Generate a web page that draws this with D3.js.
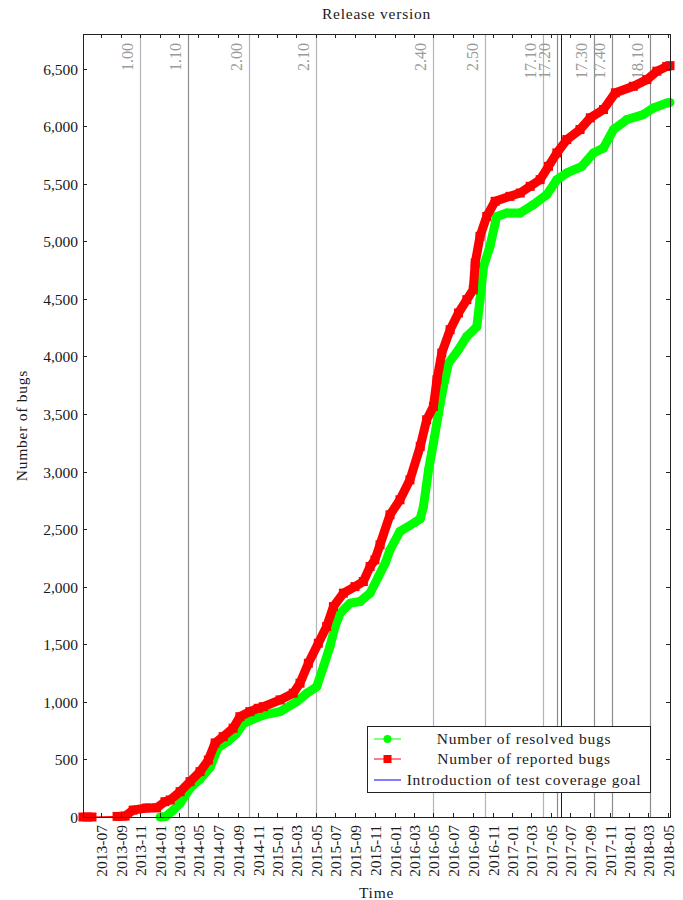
<!DOCTYPE html>
<html>
<head>
<meta charset="utf-8">
<script src="https://cdn.jsdelivr.net/npm/d3@7"></script>
<style>
  html, body { margin: 0; padding: 0; background: #fff; }
  svg { display: block; font-family: "Liberation Serif", "DejaVu Serif", serif; }
</style>
</head>
<body>
<svg id="chart" width="683" height="900"></svg>
<script>
// ---------------- data ----------------
const resolvedDates = ["2014-01-02","2014-01-20","2014-02-12","2014-03-05","2014-04-05","2014-05-06","2014-06-06","2014-07-01","2014-08-01","2014-08-26","2014-09-18","2014-11-19","2015-01-10","2015-03-03","2015-04-03","2015-05-04","2015-05-25","2015-06-14","2015-06-30","2015-07-16","2015-08-16","2015-09-16","2015-10-17","2015-11-12","2015-12-03","2015-12-18","2016-01-18","2016-03-05","2016-03-21","2016-03-31","2016-04-16","2016-05-01","2016-05-17","2016-06-01","2016-06-17","2016-07-18","2016-08-13","2016-09-13","2016-09-23","2016-10-04","2016-10-24","2016-11-14","2016-12-15","2017-01-26","2017-03-08","2017-04-19","2017-05-20","2017-06-20","2017-08-06","2017-09-11","2017-10-12","2017-11-12","2017-12-24","2018-02-13","2018-03-16","2018-04-27","2018-05-07"];
const resolvedValues = [0,5,60,120,250,330,430,600,660,720,814,886,915,1002,1075,1132,1306,1480,1654,1770,1857,1871,1944,2088,2204,2320,2480,2560,2590,2696,3015,3247,3508,3739,3942,4058,4174,4258,4493,4782,4956,5216,5245,5245,5318,5405,5535,5593,5651,5767,5810,5970,6057,6100,6158,6200,6205];

const reportedDates = ["2013-05-07","2013-06-04","2013-08-21","2013-09-15","2013-10-10","2013-11-21","2013-12-22","2014-01-17","2014-02-02","2014-03-05","2014-04-05","2014-05-06","2014-06-01","2014-06-22","2014-07-17","2014-08-17","2014-09-07","2014-10-08","2014-11-03","2014-11-19","2015-01-10","2015-02-20","2015-03-13","2015-04-08","2015-05-09","2015-06-04","2015-06-25","2015-07-26","2015-08-31","2015-09-26","2015-10-17","2015-11-01","2015-11-17","2015-12-18","2016-01-18","2016-02-18","2016-03-21","2016-04-10","2016-05-01","2016-05-12","2016-05-27","2016-06-22","2016-07-18","2016-08-13","2016-09-02","2016-09-08","2016-09-23","2016-10-14","2016-11-09","2016-12-25","2017-01-26","2017-02-26","2017-03-29","2017-04-24","2017-05-20","2017-06-20","2017-07-31","2017-09-01","2017-10-12","2017-11-18","2018-01-13","2018-02-24","2018-03-27","2018-04-27","2018-05-07"];
const reportedValues = [0,0,5,8,60,78,80,133,148,220,307,394,495,643,698,771,871,915,944,958,1017,1075,1162,1335,1509,1654,1827,1944,2001,2045,2175,2233,2364,2624,2755,2928,3218,3450,3565,3797,4029,4232,4377,4493,4580,4811,5043,5216,5347,5390,5419,5477,5535,5651,5767,5883,5970,6072,6144,6289,6346,6404,6477,6518,6525];

const releaseLabels = ["1.00","1.10","2.00","2.10","2.40","2.50","17.10","17.20","17.30","17.40","18.10"];
const releaseDates = ["2013-10-31","2014-03-31","2014-10-06","2015-05-02","2016-05-01","2016-10-09","2017-04-08","2017-05-20","2017-09-14","2017-11-08","2018-03-06"];
const testGoalDate = "2017-06-03";

const xTickLabels = ["2013-07","2013-09","2013-11","2014-01","2014-03","2014-05","2014-07","2014-09","2014-11","2015-01","2015-03","2015-05","2015-07","2015-09","2015-11","2016-01","2016-03","2016-05","2016-07","2016-09","2016-11","2017-01","2017-03","2017-05","2017-07","2017-09","2017-11","2018-01","2018-03","2018-05"];
const yTicks = [0,500,1000,1500,2000,2500,3000,3500,4000,4500,5000,5500,6000,6500];
const xDomain = ["2013-05-07","2018-05-07"];
const yDomain = [0, 6800];

const legendLabels = ["Number of resolved bugs","Number of reported bugs","Introduction of test coverage goal"];

// ---------------- drawing ----------------
const parse = d3.utcParse("%Y-%m-%d");
const parseM = d3.utcParse("%Y-%m");
const svg = d3.select("#chart");
const L = 83, R = 670, T = 34, B = 817;

const x = d3.scaleUtc().domain(xDomain.map(parse)).range([L, R]);
const y = d3.scaleLinear().domain(yDomain).range([B, T]);

const resolved = resolvedDates.map((d, i) => ({ date: parse(d), value: resolvedValues[i] }));
const reported = reportedDates.map((d, i) => ({ date: parse(d), value: reportedValues[i] }));

const FS = 15.5;       // numbers
const FW = 15.5;       // words
const LS = "0.75px";   // letter spacing for words (wider CM-like look)
const INK = "#1a1a1a";

// release lines
const darkSet = new Set(["1.10","17.20","17.30","17.40","18.10"]);
const rel = svg.append("g");
releaseDates.forEach((d, i) => {
  const xx = Math.round(x(parse(d))) + 0.5;
  rel.append("line").attr("x1", xx).attr("x2", xx).attr("y1", T).attr("y2", B)
    .attr("stroke", darkSet.has(releaseLabels[i]) ? "#8c8c8c" : "#b4b4b4").attr("stroke-width", 1.2);
  rel.append("text").attr("transform", `translate(${xx - 8},${T + 9}) rotate(-90)`)
    .attr("text-anchor", "end").attr("font-size", 16).attr("fill", "#9a9a9a")
    .text(releaseLabels[i]);
});
// test coverage line
const tg = Math.round(x(parse(testGoalDate))) + 0.5;
svg.append("line").attr("x1", tg).attr("x2", tg).attr("y1", T).attr("y2", B)
  .attr("stroke", "#0000ff").attr("stroke-width", 1);

// bands (split where consecutive near-zero points are far apart)
function segs(data) {
  const out = []; let cur = [data[0]];
  for (let i = 1; i < data.length; i++) {
    const gap = x(data[i].date) - x(data[i - 1].date);
    if (gap > 20 && data[i].value < 20 && data[i - 1].value < 20) { out.push(cur); cur = []; }
    cur.push(data[i]);
  }
  out.push(cur);
  return out;
}
const line = d3.line().x(d => x(d.date)).y(d => y(d.value));

function drawSeries(data, color, shape) {
  const g = svg.append("g");
  segs(data).forEach(s => {
    if (s.length > 1)
      g.append("path").attr("d", line(s)).attr("fill", "none").attr("stroke", color)
        .attr("stroke-width", 9).attr("stroke-linejoin", shape === "circle" ? "round" : "miter");
  });
  g.append("path").attr("d", line(data)).attr("fill", "none").attr("stroke", color).attr("stroke-width", 1);
  if (shape === "circle") {
    g.selectAll("circle").data(data).join("circle")
      .attr("cx", d => x(d.date)).attr("cy", d => y(d.value)).attr("r", 4.5).attr("fill", color);
  } else {
    g.selectAll("rect").data(data).join("rect")
      .attr("x", d => x(d.date) - 4.5).attr("y", d => y(d.value) - 4.5)
      .attr("width", 9).attr("height", 9).attr("fill", color);
  }
}
drawSeries(resolved, "#00ff00", "circle");
drawSeries(reported, "#ff0000", "square");

// frame
svg.append("rect").attr("x", L + 0.5).attr("y", T + 0.5).attr("width", R - L).attr("height", B - T)
  .attr("fill", "none").attr("stroke", "#222").attr("stroke-width", 1);

// y ticks
const fmt = d3.format(",");
const yt = svg.append("g");
yTicks.forEach(v => {
  const yy = Math.round(y(v)) + 0.5;
  yt.append("line").attr("x1", L).attr("x2", L + 4).attr("y1", yy).attr("y2", yy).attr("stroke", "#222");
  yt.append("line").attr("x1", R - 4).attr("x2", R).attr("y1", yy).attr("y2", yy).attr("stroke", "#222");
  yt.append("text").attr("x", L - 5).attr("y", yy + 5).attr("text-anchor", "end")
    .attr("font-size", FS).attr("fill", INK).text(fmt(v));
});

// x ticks
const xt = svg.append("g");
xTickLabels.forEach(lab => {
  const xx = Math.round(x(parseM(lab))) + 0.5;
  xt.append("line").attr("x1", xx).attr("x2", xx).attr("y1", B - 4).attr("y2", B).attr("stroke", "#222");
  xt.append("line").attr("x1", xx).attr("x2", xx).attr("y1", T).attr("y2", T + 4).attr("stroke", "#222");
  xt.append("text").attr("transform", `translate(${xx + 5},${B + 8}) rotate(-90)`)
    .attr("text-anchor", "end").attr("font-size", FS).attr("fill", INK).text(lab);
});

// titles
svg.append("text").attr("x", (L + R) / 2).attr("y", 19).attr("text-anchor", "middle")
  .attr("font-size", FW).attr("letter-spacing", LS).attr("fill", INK).text("Release version");
svg.append("text").attr("x", (L + R) / 2).attr("y", 898).attr("text-anchor", "middle")
  .attr("font-size", FW).attr("letter-spacing", LS).attr("fill", INK).text("Time");
svg.append("text").attr("transform", `translate(27,${(T + B) / 2}) rotate(-90)`).attr("text-anchor", "middle")
  .attr("font-size", FW).attr("letter-spacing", LS).attr("fill", INK).text("Number of bugs");

// legend
const lg = svg.append("g");
lg.append("rect").attr("x", 367.5).attr("y", 726.5).attr("width", 283).attr("height", 66)
  .attr("fill", "#fff").attr("stroke", "#222");
const rows = [739, 759, 780];
const colors = ["#00ff00", "#ff0000", "#0000ff"];
rows.forEach((ry, i) => {
  lg.append("line").attr("x1", 374).attr("x2", 401).attr("y1", ry).attr("y2", ry)
    .attr("stroke", colors[i]).attr("stroke-width", 1);
  if (i === 0) lg.append("circle").attr("cx", 387.5).attr("cy", ry).attr("r", 4).attr("fill", colors[i]);
  if (i === 1) lg.append("rect").attr("x", 383.5).attr("y", ry - 4).attr("width", 8).attr("height", 8).attr("fill", colors[i]);
  lg.append("text").attr("x", 524).attr("y", ry + 5).attr("text-anchor", "middle")
    .attr("font-size", FW).attr("letter-spacing", LS).attr("fill", INK).text(legendLabels[i]);
});
</script>
</body>
</html>
